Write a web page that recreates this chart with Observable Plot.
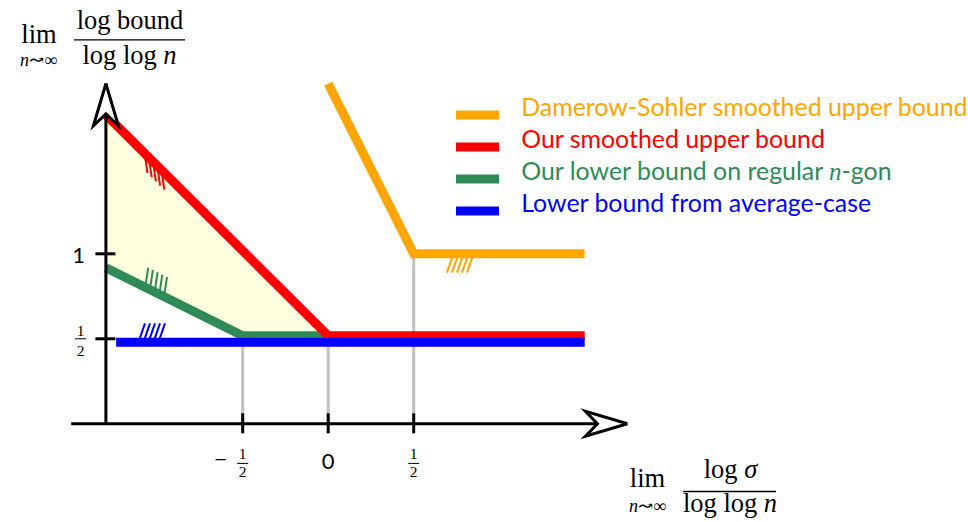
<!DOCTYPE html>
<html>
<head>
<meta charset="utf-8">
<script src="https://cdn.jsdelivr.net/npm/d3@7"></script>
<script src="https://cdn.jsdelivr.net/npm/@observablehq/plot@0.6"></script>
<style>
  html, body { margin: 0; padding: 0; background: #fff; }
  #chart svg { display: block; }
</style>
</head>
<body>
<div id="chart"></div>
<script>
// Piecewise-linear bounds: x = lim log σ / log log n, y = lim log bound / log log n
const damerowX = [0, 0.5, 1.5];
const damerowY = [2, 1, 1];
const upperX = [-1.3, 0, 1.5];
const upperY = [1.8, 0.5, 0.5];
const ngonX = [-1.3, -0.5, 0];
const ngonY = [0.9, 0.5, 0.5];
const averageX = [-1.24, 1.5];
const averageY = [0.5, 0.5];

const seriesNames = [
  "Damerow-Sohler smoothed upper bound",
  "Our smoothed upper bound",
  "Our lower bound on regular n-gon",
  "Lower bound from average-case"
];
const seriesColors = ["#ffa500", "#ff0000", "#2e8b57", "#0000ff"];

const xTickValues = [-0.5, 0, 0.5];
const xTickLabels = ["-1/2", "0", "1/2"];
const yTickValues = [0.5, 1];
const yTickLabels = ["1/2", "1"];

// x where each hatch (marking the feasible side of a bound) begins
const hatchStart = [0.733, -1.074, -1.07, -1.11];

// ---- layout ----
const W = 968, H = 522;
const X0 = 327.7, XU = 171;   // pixel of x = 0, pixels per x unit
const Y0 = 423.3, YU = 170;   // pixel of y = 0, pixels per y unit
const xAxisFrom = -1.5, xAxisTo = 1.75, yAxisAt = -1.3, yAxisTo = 2.0;
const LW = 9;                                  // bound line width
const seriesDy = [0, -3, -3, 3.5];             // small vertical separation where bounds coincide
const hatchDir = [[-0.35, 1], [0.15, 1], [0.15, -1], [0.35, -1]]; // pixel direction, +y down
const hatchStepPx = [5, 4.2, 4.7, 5];
const hatchLenPx = 20;
const serif = "'Liberation Serif', 'DejaVu Serif', serif";
const sans = "Lato, 'Open Sans', 'DejaVu Sans', sans-serif";

const series = [
  [damerowX, damerowY], [upperX, upperY], [ngonX, ngonY], [averageX, averageY]
].map(([xs, ys], i) => ({
  name: seriesNames[i], color: seriesColors[i], dy: seriesDy[i],
  rows: d3.zip(xs, ys).map(([x, y]) => ({x, y})),
  f: d3.scaleLinear(xs, ys)
}));

// feasible region between the regular n-gon lower bound and our upper bound
const fUpper = series[1].f, fNgon = series[2].f;
const region = [-1.3, -0.5, 0].map(x => ({x, lo: fNgon(x), hi: fUpper(x)}));

// drop lines at the breakpoints of the n-gon, our upper and Damerow-Sohler bounds
const guides = [
  {x: ngonX[1], top: ngonY[1]},
  {x: upperX[1], top: upperY[1]},
  {x: damerowX[1], top: damerowY[1]}
];

// hatch strokes, anchored on each bound and drawn under it
function hatchRows(i) {
  const s = series[i];
  const [ux, uy] = hatchDir[i];
  const n = Math.hypot(ux, uy);
  return d3.range(5).map(k => {
    const x1 = hatchStart[i] + k * hatchStepPx[i] / XU;
    const y1 = s.f(x1);
    return {x1, y1, x2: x1 + ux / n * hatchLenPx / XU, y2: y1 - uy / n * hatchLenPx / YU};
  });
}

// open arrowheads (along, across) in pixels
const arrowShape = [[0, 0], [-42, -12.5], [-30, 0], [-42, 12.5], [0, 0]];
const arrows = [
  ...arrowShape.map(([a, c]) => ({axis: "x", x: xAxisTo + a / XU, y: -c / YU})),
  ...arrowShape.map(([a, c]) => ({axis: "y", x: yAxisAt + c / XU, y: yAxisTo + a / YU}))
];

function parseTick(v, s) {
  const m = s.match(/^(-?)(\d+)\/(\d+)$/);
  return m ? {v, frac: true, sign: m[1] ? "\u2212" : "", num: m[2], den: m[3]} : {v, frac: false, whole: s};
}
const xTicks = xTickValues.map((v, i) => parseTick(v, xTickLabels[i]));
const yTicks = yTickValues.map((v, i) => parseTick(v, yTickLabels[i]));
const xFrac = xTicks.filter(d => d.frac), xWhole = xTicks.filter(d => !d.frac);
const yFrac = yTicks.filter(d => d.frac), yWhole = yTicks.filter(d => !d.frac);

// text placed in pixels from the top-left corner
const note = (text, px, py, opts = {}) =>
  Plot.text([text], {frameAnchor: "top-left", dx: px, dy: py, text: d => d, lineAnchor: "bottom",
                     textAnchor: "middle", fontFamily: serif, fontSize: 26.5, fill: "black", ...opts});
const bar = (xa, xb, py) =>
  Plot.ruleY([0], {x1: (xa - X0) / XU, x2: (xb - X0) / XU, y: (Y0 - py) / YU, stroke: "black", strokeWidth: 1.3});

const marks = [];
marks.push(Plot.areaY(region, {x: "x", y1: "lo", y2: "hi", fill: "#ffffe0", dy: seriesDy[1]}));
marks.push(Plot.ruleX(guides, {x: "x", y1: 0, y2: "top", stroke: "#c0c0c0", strokeWidth: 3}));
for (let i = 0; i < 4; i++) {
  marks.push(Plot.link(hatchRows(i), {x1: "x1", y1: "y1", x2: "x2", y2: "y2", stroke: series[i].color,
    strokeWidth: 2, strokeLinecap: "butt", dy: series[i].dy}));
}
for (const i of [2, 1, 3, 0]) {
  const s = series[i];
  marks.push(Plot.line(s.rows, {x: "x", y: "y", stroke: s.color, strokeWidth: LW, dy: s.dy,
    strokeLinecap: "butt", strokeLinejoin: "miter", strokeMiterlimit: 10}));
}
// axes
marks.push(Plot.ruleY([0], {x1: xAxisFrom, x2: xAxisTo, stroke: "black", strokeWidth: 3}));
marks.push(Plot.ruleX([yAxisAt], {y1: 0, y2: yAxisTo, stroke: "black", strokeWidth: 3}));
marks.push(Plot.line(arrows, {x: "x", y: "y", z: "axis", stroke: "black", fill: "white", strokeWidth: 3,
  strokeLinejoin: "miter", strokeMiterlimit: 10, strokeLinecap: "butt"}));
marks.push(Plot.ruleX(xTickValues, {x: d => d, y1: -10 / YU, y2: 10 / YU, stroke: "black", strokeWidth: 3}));
marks.push(Plot.ruleY(yTickValues, {y: d => d, x1: yAxisAt - 10 / XU, x2: yAxisAt + 10 / XU, stroke: "black", strokeWidth: 3}));

// x tick labels
const fracFont = {lineAnchor: "bottom", fontFamily: serif, fontSize: 15.5, fill: "black"};
marks.push(Plot.text(xWhole, {x: "v", y: 0, text: "whole", dy: 45, lineAnchor: "bottom", fontFamily: sans, fontSize: 22, fill: "black"}));
marks.push(Plot.text(xFrac, {x: "v", y: 0, text: "num", dy: 35, ...fracFont}));
marks.push(Plot.text(xFrac, {x: "v", y: 0, text: "den", dy: 53.5, ...fracFont}));
marks.push(Plot.link(xFrac, {x1: d => d.v - 5.5 / XU, x2: d => d.v + 5.5 / XU, y1: 0, y2: 0, dy: 39.6, stroke: "black", strokeWidth: 1}));
marks.push(Plot.text(xFrac.filter(d => d.sign), {x: "v", y: 0, text: "sign", dx: -22, dy: 43.5, lineAnchor: "bottom", fontFamily: serif, fontSize: 22, fill: "black"}));
// y tick labels
marks.push(Plot.text(yWhole, {x: yAxisAt, y: "v", text: "whole", dx: -21, dy: 9, textAnchor: "end", lineAnchor: "bottom", fontFamily: sans, fontSize: 22, fill: "black"}));
marks.push(Plot.text(yFrac, {x: yAxisAt, y: "v", text: "num", dx: -25.4, dy: -3.2, ...fracFont}));
marks.push(Plot.text(yFrac, {x: yAxisAt, y: "v", text: "den", dx: -25.4, dy: 17.5, ...fracFont}));
marks.push(Plot.link(yFrac, {x1: yAxisAt - 30.9 / XU, x2: yAxisAt - 19.9 / XU, y1: "v", y2: "v", stroke: "black", strokeWidth: 1}));

// axis titles
marks.push(note("lim", 38.5, 42));
marks.push(note("n\u219D\u221E", 38, 65, {fontSize: 18}));
marks.push(note("log bound", 129.5, 28.5));
marks.push(bar(74, 185, 39.3));
marks.push(note("log log n", 129, 63));
marks.push(note("lim", 647, 486));
marks.push(note("n\u219D\u221E", 647, 511, {fontSize: 18}));
marks.push(note("log \u03C3", 730, 477.5));
marks.push(bar(683, 776, 491));
marks.push(note("log log n", 729.5, 511));

// legend
series.forEach((s, i) => {
  const py = 114.5 + 32 * i;
  marks.push(Plot.ruleY([0], {x1: (456 - X0) / XU, x2: (499 - X0) / XU, y: (Y0 - py) / YU, stroke: s.color, strokeWidth: LW}));
  marks.push(note(s.name, 520.7, py + 0.5, {textAnchor: "start", fontFamily: sans, fontSize: 24.9, fill: s.color}));
});

const plot = Plot.plot({
  width: W, height: H,
  marginTop: 0, marginRight: 0, marginBottom: 0, marginLeft: 0,
  x: {domain: [-X0 / XU, (W - X0) / XU], range: [0, W], axis: null},
  y: {domain: [-(H - Y0) / YU, Y0 / YU], range: [H, 0], axis: null},
  style: {background: "white", overflow: "visible"},
  marks
});

// math-italic letters inside the labels
const rich = {
  "log log n": [["log log "], ["n", true]],
  "log \u03C3": [["log "], ["\u03C3", true]],
  "n\u219D\u221E": [["n", true], ["\u219D\u221E"]],
  "Our lower bound on regular n-gon": [["Our lower bound on regular "], ["n", true, serif], ["-gon"]]
};
d3.select(plot).selectAll("text").each(function () {
  const parts = rich[this.textContent];
  if (!parts) return;
  this.textContent = "";
  for (const [t, it, fam] of parts) {
    const ts = document.createElementNS("http://www.w3.org/2000/svg", "tspan");
    ts.textContent = t;
    if (it) ts.setAttribute("font-style", "italic");
    if (fam) ts.setAttribute("font-family", fam);
    this.appendChild(ts);
  }
});

document.getElementById("chart").appendChild(plot);
</script>
</body>
</html>
